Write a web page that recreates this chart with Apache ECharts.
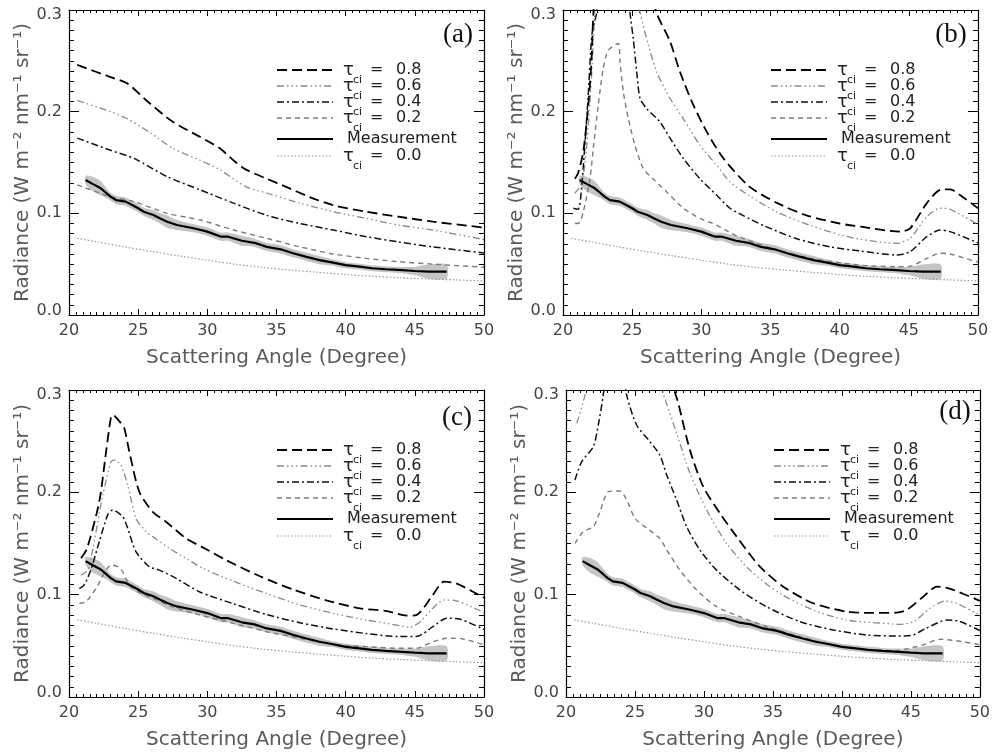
<!DOCTYPE html>
<html>
<head>
<meta charset="utf-8">
<script src="https://cdn.jsdelivr.net/npm/echarts/dist/echarts.min.js"></script>
<style>
  html, body { margin: 0; padding: 0; background: #fff; }
  #chart { width: 993px; height: 755px; }
</style>
</head>
<body>
<div id="chart"></div>
<script>
// ---------------- data ----------------
const xTicks = [20, 25, 30, 35, 40, 45, 50];
const yTicks = [0.0, 0.1, 0.2, 0.3];
const panelTags = ['(a)', '(b)', '(c)', '(d)'];
const xTitle = 'Scattering Angle (Degree)';
const yTitle = 'Radiance (W m\u207B\u00B2 nm\u207B\u00B9 sr\u207B\u00B9)';
const legendValues = ['0.8', '0.6', '0.4', '0.2', 'Measurement', '0.0'];

// measured radiance with its spread (shaded band)
const measAngle = [21.2,21.7,22.3,22.7,23.0,23.4,24.1,24.6,25.0,25.4,26.1,26.6,27.1,27.8,29.0,30.0,31.0,31.5,32.5,33.4,34.3,35.3,36.2,37.1,38.1,39.0,40.0,41.0,41.9,42.9,43.8,45.0,46.0,47.3];
const measRadiance = [0.1328,0.129,0.1246,0.120,0.1164,0.113,0.1115,0.108,0.105,0.1016,0.0984,0.095,0.0918,0.0885,0.0853,0.082,0.077,0.077,0.073,0.071,0.067,0.0646,0.0607,0.0574,0.054,0.0518,0.049,0.0475,0.046,0.045,0.0443,0.0433,0.0426,0.0426];
const measSpread = [0.004,0.007,0.007,0.005,0.004,0.004,0.004,0.004,0.004,0.004,0.005,0.005,0.006,0.005,0.004,0.004,0.004,0.004,0.005,0.004,0.004,0.004,0.004,0.004,0.004,0.003,0.003,0.003,0.003,0.003,0.003,0.004,0.007,0.007];

// clear-sky simulation (tau = 0), same in every panel
const clearSky = [[20.6,0.0754],[22,0.072],[24,0.067],[26,0.0625],[28,0.058],[30,0.054],[32,0.050],[34,0.0468],[36,0.0442],[38,0.042],[40,0.0398],[42,0.038],[44,0.0366],[46,0.0355],[48,0.0345],[50,0.0335]];

// panel (a)
const a08 = [[20.6,0.246],[23.0,0.234],[24.2,0.228],[25.6,0.211],[27.5,0.190],[29.5,0.175],[30.9,0.164],[31.9,0.152],[32.8,0.143],[34.3,0.134],[35.7,0.126],[37.4,0.116],[39.1,0.108],[41.5,0.1016],[43.8,0.0967],[46.3,0.0918],[50,0.086]];
const a06 = [[20.6,0.211],[23.0,0.200],[24.2,0.193],[25.9,0.179],[27.5,0.164],[29.5,0.152],[30.9,0.143],[32.8,0.126],[34.3,0.120],[36.7,0.110],[39.1,0.1016],[41.5,0.095],[43.8,0.0885],[46.3,0.0836],[50,0.0742]];
const a04 = [[20.6,0.174],[23.0,0.162],[24.7,0.154],[27.1,0.136],[29.5,0.123],[31.9,0.110],[34.3,0.098],[36.7,0.090],[39.1,0.0836],[41.5,0.077],[43.8,0.072],[46.3,0.067],[50,0.061]];
const a02 = [[20.6,0.128],[23.0,0.1164],[24.7,0.1115],[27.1,0.100],[29.5,0.0934],[31.9,0.0836],[34.3,0.0754],[36.7,0.067],[39.1,0.060],[41.5,0.0557],[43.8,0.0524],[46.3,0.050],[50,0.047]];

// panel (b)
const b08 = [[20.85,0.134],[21.1,0.140],[21.47,0.161],[21.83,0.2066],[22.07,0.2525],[22.19,0.295],[22.6,0.37],[23.2,0.43],[24.0,0.46],[25.0,0.41],[26.0,0.34],[26.77,0.297],[27.74,0.269],[28.46,0.239],[29.42,0.2066],[30.4,0.180],[31.6,0.154],[33.5,0.126],[35.5,0.110],[37.6,0.098],[40.0,0.090],[41.5,0.0869],[44.4,0.082],[45.1,0.0853],[46.3,0.110],[47.26,0.123],[48.0,0.1236],[48.7,0.118],[50,0.105]];
const b06 = [[20.85,0.1197],[21.3,0.128],[21.6,0.150],[21.9,0.200],[22.1,0.244],[22.3,0.298],[22.8,0.40],[23.5,0.45],[24.5,0.40],[25.2,0.33],[25.57,0.298],[26.17,0.2656],[26.77,0.239],[27.74,0.213],[28.7,0.193],[29.9,0.167],[31.1,0.1475],[32.07,0.131],[33.5,0.117],[35.5,0.101],[37.9,0.088],[40.0,0.079],[41.47,0.0745],[44.1,0.0705],[45.09,0.0754],[46.3,0.0967],[47.26,0.105],[47.98,0.104],[50,0.089]];
const b04 = [[20.75,0.105],[21.1,0.104],[21.35,0.126],[21.8,0.211],[22.1,0.277],[22.44,0.298],[23.0,0.40],[23.8,0.44],[24.5,0.36],[24.84,0.298],[25.08,0.272],[25.33,0.239],[25.57,0.213],[26.05,0.203],[27.0,0.190],[27.74,0.174],[28.7,0.154],[29.9,0.134],[31.1,0.118],[32.07,0.105],[33.0,0.098],[34.5,0.088],[36.9,0.075],[39.3,0.067],[41.47,0.063],[44.1,0.059],[45.09,0.0623],[46.3,0.077],[47.26,0.0836],[47.98,0.082],[50,0.071]];
const b02 = [[20.87,0.090],[21.2,0.091],[21.47,0.1016],[21.95,0.134],[22.19,0.164],[22.55,0.2066],[22.91,0.2426],[23.28,0.2606],[24.0,0.267],[24.12,0.249],[24.36,0.2196],[24.72,0.1935],[25.2,0.167],[25.8,0.144],[26.5,0.134],[27.5,0.121],[28.7,0.105],[29.9,0.095],[31.1,0.0885],[32.07,0.081],[33.0,0.0754],[35.45,0.064],[37.9,0.0557],[40.3,0.051],[41.47,0.049],[44.1,0.0475],[45.09,0.048],[46.3,0.0557],[47.26,0.0607],[47.98,0.060],[50,0.052]];

// panel (c)
const c08 = [[20.87,0.1355],[21.3,0.145],[22.19,0.191],[22.68,0.2397],[23.04,0.274],[23.16,0.2756],[23.76,0.2675],[24.0,0.2626],[24.36,0.2397],[25.08,0.2006],[26.05,0.181],[27.01,0.1713],[28.46,0.155],[29.7,0.146],[31.4,0.1335],[33.8,0.118],[36.2,0.105],[38.6,0.0945],[41.0,0.0867],[42.97,0.084],[44.4,0.0795],[45.1,0.080],[46.3,0.0997],[47.1,0.1127],[48.0,0.111],[50,0.097]];
const c06 = [[20.87,0.119],[21.4,0.125],[22.44,0.197],[23.04,0.23],[23.28,0.2316],[23.76,0.2267],[24.24,0.207],[24.84,0.1746],[25.57,0.1615],[26.05,0.1567],[27.25,0.1453],[28.46,0.1355],[29.67,0.1258],[31.9,0.113],[34.3,0.101],[36.7,0.0899],[39.1,0.0818],[41.5,0.0752],[43.9,0.0697],[44.6,0.068],[45.4,0.0736],[46.3,0.0867],[47.1,0.0948],[48.0,0.094],[50,0.0825]];
const c04 = [[20.75,0.106],[21.1,0.1095],[21.6,0.125],[22.19,0.1518],[22.8,0.178],[23.16,0.1827],[23.88,0.1762],[24.24,0.165],[24.84,0.142],[25.8,0.1273],[26.53,0.124],[27.74,0.116],[29.42,0.1029],[31.9,0.091],[34.3,0.0805],[36.7,0.0725],[39.1,0.0665],[41.5,0.062],[43.9,0.059],[45.1,0.059],[46.3,0.0687],[47.3,0.077],[48.3,0.076],[50,0.066]];
const c02 = [[20.75,0.0916],[21.23,0.0931],[21.95,0.106],[22.55,0.121],[23.04,0.129],[23.52,0.1273],[23.88,0.1224],[24.36,0.1094],[25.1,0.102],[26.1,0.0964],[27.5,0.088],[29.5,0.080],[31.9,0.072],[34.3,0.0638],[36.7,0.0574],[39.1,0.0515],[41.5,0.0492],[43.9,0.0476],[45.1,0.0476],[46.3,0.054],[47.3,0.0574],[48.3,0.057],[50,0.051]];

// panel (d)
const d08 = [[20.6,0.62],[22.0,0.62],[24.0,0.55],[26.0,0.42],[27.3,0.33],[27.85,0.300],[28.14,0.287],[28.99,0.241],[29.95,0.2055],[31.16,0.1795],[32.37,0.1567],[34.06,0.1273],[35.75,0.1078],[37.92,0.0916],[40.34,0.0834],[42.0,0.0822],[43.96,0.0824],[44.7,0.085],[45.9,0.098],[46.9,0.1078],[47.8,0.106],[50,0.094]];
const d06 = [[20.78,0.2675],[21.38,0.295],[22.0,0.34],[23.0,0.40],[24.0,0.42],[25.0,0.40],[26.0,0.35],[26.6,0.32],[27.05,0.2968],[28.02,0.2577],[28.99,0.2186],[30.2,0.1827],[31.65,0.150],[33.33,0.124],[35.5,0.1013],[37.92,0.085],[40.34,0.0752],[43.7,0.0713],[44.2,0.071],[45.2,0.0736],[46.4,0.0867],[47.5,0.0938],[48.3,0.0916],[50,0.080]];
const d04 = [[20.65,0.212],[21.14,0.230],[21.98,0.2446],[22.34,0.2658],[22.7,0.295],[23.0,0.33],[23.7,0.36],[24.2,0.32],[24.4,0.295],[25.12,0.2658],[26.09,0.2495],[26.8,0.2365],[27.3,0.217],[28.02,0.1925],[28.75,0.1664],[29.7,0.1437],[30.92,0.124],[32.6,0.1046],[34.54,0.0882],[36.96,0.0736],[39.37,0.0655],[41.8,0.0606],[43.96,0.0596],[45.0,0.060],[46.1,0.0671],[47.6,0.0752],[48.5,0.074],[50,0.065]];
const d02 = [[20.65,0.150],[21.25,0.1615],[21.98,0.1664],[22.46,0.181],[23.07,0.2006],[23.9,0.2013],[24.4,0.1925],[25.0,0.1746],[25.85,0.165],[26.8,0.155],[27.3,0.1437],[28.26,0.124],[29.47,0.1046],[30.92,0.0882],[32.6,0.0785],[34.54,0.0687],[36.96,0.059],[39.37,0.0508],[41.8,0.0466],[43.96,0.0452],[44.7,0.047],[45.9,0.051],[47.1,0.0564],[48.3,0.055],[50,0.051]];

const panelCurves = [
  { t08: a08, t06: a06, t04: a04, t02: a02 },
  { t08: b08, t06: b06, t04: b04, t02: b02 },
  { t08: c08, t06: c06, t04: c04, t02: c02 },
  { t08: d08, t06: d06, t04: d04, t02: d02 }
];

// ---------------- layout & styles ----------------
const layout = [
  { left: 69,  top: 10,  width: 415, height: 305, tagDx: -26, tagDy: 25 },
  { left: 563, top: 10,  width: 415, height: 305, tagDx: -27, tagDy: 25 },
  { left: 69,  top: 390, width: 415, height: 307, tagDx: -27, tagDy: 28 },
  { left: 566, top: 390, width: 414, height: 307, tagDx: -25, tagDy: 22 }
];
const legendOffsets = [60, 76, 92, 108, 129, 146];

const lineStyles = {
  t08:  { color: '#000000', width: 1.8, type: [10, 5] },
  t06:  { color: '#8a8a8a', width: 1.3, type: [7, 3, 1.5, 3, 1.5, 3, 1.5, 3] },
  t04:  { color: '#111111', width: 1.5, type: [7, 3, 2, 3] },
  t02:  { color: '#7c7c7c', width: 1.4, type: [5, 4] },
  meas: { color: '#000000', width: 2.2, type: 'solid' },
  t00:  { color: '#9a9a9a', width: 1.2, type: [1.5, 2] }
};
const legendKeys = ['t08', 't06', 't04', 't02', 'meas', 't00'];
const seriesNames = {
  t08: '\u03C4ci = 0.8', t06: '\u03C4ci = 0.6', t04: '\u03C4ci = 0.4',
  t02: '\u03C4ci = 0.2', meas: 'Measurement', t00: '\u03C4ci = 0.0'
};

const FONT = "'DejaVu Sans', 'Liberation Sans', sans-serif";
const tickColor = '#444';
const titleColor = '#5a5a5a';

// ---------------- option ----------------
const grids = [], xAxes = [], yAxes = [], series = [], graphics = [];
const xMin = xTicks[0], xMax = xTicks[xTicks.length - 1], xStep = xTicks[1] - xTicks[0];
const yMin = yTicks[0], yMax = yTicks[yTicks.length - 1], yStep = yTicks[1] - yTicks[0];

const frameLine = { show: true, onZero: false, lineStyle: { color: '#000', width: 1.2 } };

function makeX(i, mirror) {
  return {
    type: 'value', gridIndex: i, position: mirror ? 'top' : 'bottom',
    min: xMin, max: xMax, interval: xStep,
    axisLine: frameLine,
    axisTick: { show: true, inside: true, length: 6, lineStyle: { color: '#000' } },
    minorTick: { show: true, splitNumber: 10, length: 3, lineStyle: { color: '#000' } },
    splitLine: { show: false }, minorSplitLine: { show: false },
    axisLabel: mirror ? { show: false } : {
      show: true, margin: 8, color: tickColor, fontSize: 16, fontFamily: FONT
    },
    name: mirror ? '' : xTitle,
    nameLocation: 'middle', nameGap: 33,
    nameTextStyle: { color: titleColor, fontSize: 20, fontFamily: FONT }
  };
}

function makeY(i, mirror) {
  return {
    type: 'value', gridIndex: i, position: mirror ? 'right' : 'left',
    min: yMin, max: yMax, interval: yStep,
    axisLine: frameLine,
    axisTick: { show: true, inside: true, length: 10, lineStyle: { color: '#000' } },
    minorTick: { show: true, splitNumber: 10, length: 5, lineStyle: { color: '#000' } },
    splitLine: { show: false }, minorSplitLine: { show: false },
    axisLabel: mirror ? { show: false } : {
      show: true, margin: 7, color: tickColor, fontSize: 16, fontFamily: FONT,
      formatter: function (v) {
        const s = v.toFixed(1);
        if (Math.abs(v - yMax) < 1e-9) return '{hi|' + s + '}';
        if (Math.abs(v - yMin) < 1e-9) return '{lo|' + s + '}';
        return s;
      },
      rich: {
        hi: { padding: [9, 0, 0, 0], color: tickColor, fontSize: 16, fontFamily: FONT },
        lo: { padding: [0, 0, 8, 0], color: tickColor, fontSize: 16, fontFamily: FONT }
      }
    },
    name: mirror ? '' : yTitle,
    nameLocation: 'middle', nameGap: 36,
    nameTextStyle: { color: titleColor, fontSize: 20, fontFamily: FONT }
  };
}

function lineSeries(i, key, data, smooth) {
  const st = lineStyles[key];
  return {
    type: 'line', name: seriesNames[key], xAxisIndex: i, yAxisIndex: i,
    data: data, symbol: 'none', smooth: smooth, clip: true, silent: true, z: 3,
    lineStyle: { color: st.color, width: st.width, type: st.type },
    itemStyle: { color: st.color }
  };
}

const measLine = measAngle.map((x, k) => [x, measRadiance[k]]);
const bandData = measAngle.map((x, k) => [x, measRadiance[k] - measSpread[k], measRadiance[k] + measSpread[k]]);

// spread band: one filled outline through the upper and lower limits
function renderBand(params, api) {
  if (params.dataIndex !== 0) return null;
  const upper = [], lower = [];
  for (let k = 0; k < bandData.length; k++) {
    upper.push(api.coord([bandData[k][0], bandData[k][2]]));
    lower.push(api.coord([bandData[k][0], bandData[k][1]]));
  }
  return {
    type: 'polygon',
    shape: { points: upper.concat(lower.reverse()), smooth: 0.25 },
    style: { fill: '#c4c4c4', stroke: null }
  };
}

layout.forEach((g, i) => {
  grids.push({ left: g.left, top: g.top, width: g.width, height: g.height, containLabel: false });
  xAxes.push(makeX(i, false));
  yAxes.push(makeY(i, false));

  series.push({
    type: 'custom', name: 'spread', xAxisIndex: i, yAxisIndex: i, silent: true, z: 1,
    data: bandData, encode: { x: 0, y: [1, 2] }, renderItem: renderBand
  });

  const cv = panelCurves[i];
  series.push(lineSeries(i, 't00', clearSky, 0.3));
  series.push(lineSeries(i, 't02', cv.t02, 0.25));
  series.push(lineSeries(i, 't04', cv.t04, 0.25));
  series.push(lineSeries(i, 't06', cv.t06, 0.25));
  series.push(lineSeries(i, 't08', cv.t08, 0.25));
  series.push(lineSeries(i, 'meas', measLine, false));

  // panel tag
  graphics.push({
    type: 'text', x: g.left + g.width + g.tagDx, y: g.top + g.tagDy, silent: true, z: 100,
    style: {
      text: panelTags[i], fill: '#111', align: 'center', verticalAlign: 'middle',
      font: "27px 'Liberation Serif', 'DejaVu Serif', serif"
    }
  });

  // legend block
  const lx0 = g.left + 208, lx1 = g.left + 264, tx = g.left + 274;
  legendKeys.forEach((key, k) => {
    const y = g.top + legendOffsets[k];
    const st = lineStyles[key];
    graphics.push({
      type: 'line', silent: true, z: 100,
      shape: { x1: lx0, y1: y, x2: lx1, y2: y },
      style: { stroke: st.color, lineWidth: st.width, lineDash: Array.isArray(st.type) ? st.type : null }
    });
    const txtFont = '16px ' + FONT;
    if (key === 'meas') {
      graphics.push({ type: 'text', x: tx + 4, y: y, silent: true, z: 100,
        style: { text: legendValues[k], fill: '#222', font: txtFont, verticalAlign: 'middle' } });
    } else {
      graphics.push({ type: 'text', x: tx, y: y, silent: true, z: 100,
        style: { text: '\u03C4', fill: '#222', font: '18px ' + FONT, verticalAlign: 'middle' } });
      graphics.push({ type: 'text', x: tx + 10, y: y + 10, silent: true, z: 100,
        style: { text: 'ci', fill: '#222', font: '11px ' + FONT, verticalAlign: 'middle' } });
      graphics.push({ type: 'text', x: tx + 27, y: y, silent: true, z: 100,
        style: { text: '=', fill: '#222', font: txtFont, verticalAlign: 'middle' } });
      graphics.push({ type: 'text', x: tx + 53, y: y, silent: true, z: 100,
        style: { text: legendValues[k], fill: '#222', font: txtFont, verticalAlign: 'middle' } });
    }
  });
});

// mirrored frame axes (top / right) carrying ticks only
layout.forEach((g, i) => {
  xAxes.push(makeX(i, true));
  yAxes.push(makeY(i, true));
});

const chart = echarts.init(document.getElementById('chart'), null, { renderer: 'canvas' });
chart.setOption({
  animation: false,
  backgroundColor: '#ffffff',
  grid: grids,
  xAxis: xAxes,
  yAxis: yAxes,
  series: series,
  graphic: graphics
});
</script>
</body>
</html>
